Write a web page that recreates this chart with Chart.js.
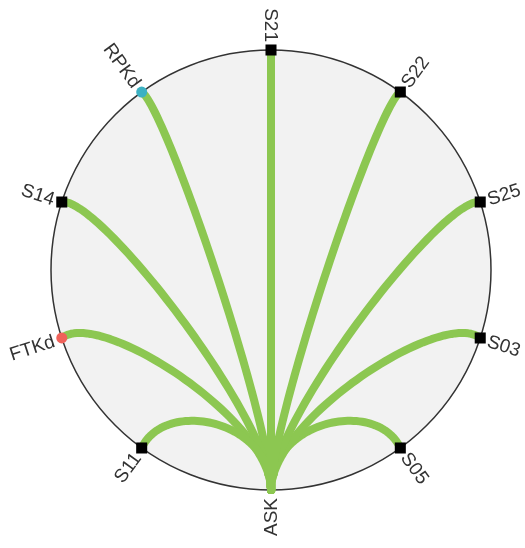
<!DOCTYPE html>
<html>
<head>
<meta charset="utf-8">
<script src="https://cdn.jsdelivr.net/npm/chart.js@4"></script>
<style>
html,body{margin:0;padding:0;background:#fff;}
#wrap{width:525px;height:548px;position:relative;}
</style>
</head>
<body>
<div id="wrap"><canvas id="chart"></canvas></div>
<script>
/* ============================================================
   DATA
   ============================================================ */
// nodes placed clockwise around the ring, starting one step right of the top
var nodeNames=['S22','S25','S03','S05','ASK','S11','FTKd','S14','RPKd','S21'];
var nodeColors=['#000000','#000000','#000000','#000000','#8cc751','#000000','#f0625a','#000000','#3cb1c2','#000000'];
var nodeShapes=['rect','rect','rect','rect','circle','rect','circle','rect','circle','rect'];
var nodeSizes=[7.8,7.8,7.8,7.8,4,7.8,5.5,7.8,5.5,7.8];
var linkSources=['ASK','ASK','ASK','ASK','ASK','ASK','ASK','ASK','ASK'];
var linkTargets=['S21','S22','S25','S03','S05','S11','FTKd','S14','RPKd'];

var LINK_COLOR='#8cc751';
var STEP=360/nodeNames.length;

/* ============================================================
   LAYOUT HELPERS
   ============================================================ */
function nodePos(name){
    var i=nodeNames.indexOf(name);
    var a=(i+1)*STEP*Math.PI/180;
    return {x:Math.sin(a),y:Math.cos(a),deg:(i+1)*STEP};
}
// cubic curve: leaves the source towards the centre, enters the target from a pull point above the centre
function linkPath(src,tgt){
    var a=nodePos(src),b=nodePos(tgt);
    var q={x:0,y:0.45},kb=0.18;
    var p1={x:a.x*0.68,y:a.y*0.68};
    var p2={x:b.x+kb*(q.x-b.x),y:b.y+kb*(q.y-b.y)};
    var pts=[];
    for(var k=0;k<=60;k++){
        var t=k/60,u=1-t;
        pts.push({
            x:u*u*u*a.x+3*u*u*t*p1.x+3*u*t*t*p2.x+t*t*t*b.x,
            y:u*u*u*a.y+3*u*u*t*p1.y+3*u*t*t*p2.y+t*t*t*b.y
        });
    }
    return pts;
}

var datasets=[];
datasets.push({
    label:'nodes',order:0,clip:false,
    data:nodeNames.map(function(n){var p=nodePos(n);return {x:p.x,y:p.y};}),
    pointStyle:nodeShapes,pointRadius:nodeSizes,
    pointBackgroundColor:nodeColors,pointBorderColor:nodeColors,pointBorderWidth:0,
    showLine:false
});
linkSources.forEach(function(s,i){
    datasets.push({
        label:s+'-'+linkTargets[i],order:1,clip:false,
        data:linkPath(s,linkTargets[i]),
        showLine:true,borderColor:LINK_COLOR,borderWidth:8,borderCapStyle:'round',borderJoinStyle:'round',
        pointRadius:0,tension:0
    });
});

/* ============================================================
   PLUGINS
   ============================================================ */
var ringPlugin={
    id:'ring',
    beforeDatasetsDraw:function(chart){
        var ctx=chart.ctx,sx=chart.scales.x,sy=chart.scales.y;
        var cx=sx.getPixelForValue(0),cy=sy.getPixelForValue(0);
        var r=sx.getPixelForValue(1)-cx;
        ctx.save();
        ctx.beginPath();ctx.arc(cx,cy,r,0,Math.PI*2);
        ctx.fillStyle='#f2f2f2';ctx.fill();
        ctx.lineWidth=1.5;ctx.strokeStyle='#333';ctx.stroke();
        ctx.restore();
    }
};
var labelPlugin={
    id:'labels',
    afterDatasetsDraw:function(chart){
        var ctx=chart.ctx,sx=chart.scales.x,sy=chart.scales.y;
        ctx.save();
        ctx.font='19px "Liberation Sans", Arial, sans-serif';
        ctx.fillStyle='#333';
        ctx.textBaseline='middle';
        nodeNames.forEach(function(n){
            var p=nodePos(n);
            ctx.save();
            ctx.translate(sx.getPixelForValue(p.x),sy.getPixelForValue(p.y));
            ctx.rotate((p.deg-90)*Math.PI/180);
            ctx.translate(8,0);
            if(p.deg>=180){ctx.rotate(Math.PI);ctx.textAlign='right';}
            else ctx.textAlign='left';
            ctx.fillText(n,0,1);
            ctx.restore();
        });
        ctx.restore();
    }
};

/* ============================================================
   CHART
   ============================================================ */
new Chart(document.getElementById('chart'),{
    type:'scatter',
    data:{datasets:datasets},
    options:{
        responsive:true,maintainAspectRatio:false,animation:false,
        layout:{padding:{left:51,right:34,top:50,bottom:58}},
        plugins:{legend:{display:false},tooltip:{enabled:false}},
        scales:{
            x:{type:'linear',min:-1,max:1,display:false},
            y:{type:'linear',min:-1,max:1,display:false}
        }
    },
    plugins:[ringPlugin,labelPlugin]
});
</script>
</body>
</html>
